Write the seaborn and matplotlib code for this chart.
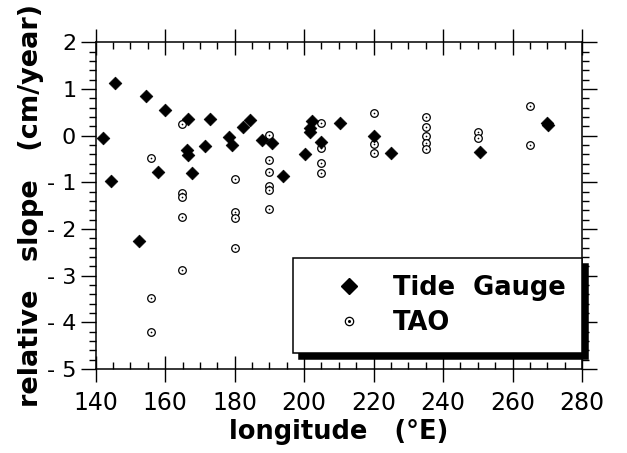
import numpy as np
import pandas as pd
import matplotlib
matplotlib.use("Agg")
import matplotlib.pyplot as plt
from matplotlib.ticker import MultipleLocator, FixedLocator, FixedFormatter
from matplotlib.lines import Line2D
import seaborn as sns

# ---- data ----
tide_lon = [142, 145.5, 144.5, 152.5, 154.5, 160, 158, 166.7, 166.2, 166.5,
            167.6, 171.5, 173, 178.5, 179.2, 182.5, 184.5, 187.8, 190.7, 193.9,
            200.2, 202.2, 201.8, 201.6, 204.8, 210.4, 220, 225.1, 250.7, 269.8,
            270.2]
tide_slope = [-0.05, 1.13, -0.98, -2.25, 0.84, 0.55, -0.77, 0.35, -0.31, -0.41,
              -0.79, -0.22, 0.35, -0.03, -0.20, 0.19, 0.33, -0.09, -0.15, -0.86,
              -0.39, 0.32, 0.16, 0.07, -0.13, 0.27, -0.01, -0.38, -0.36, 0.28,
              0.22]

tao_lon = [164.8, 156, 164.8, 164.8, 164.8, 164.8, 156, 156, 180, 180,
           180, 180, 190, 190, 190, 190, 190, 190, 205, 205,
           205, 205, 220, 220, 220, 235, 235, 235, 235, 235,
           250, 250, 265, 265]
tao_slope = [0.25, -0.48, -1.22, -1.32, -1.75, -2.88, -3.47, -4.21, -0.93, -1.63,
             -1.77, -2.41, 0.01, -0.52, -0.77, -1.08, -1.16, -1.58, 0.28, -0.27,
             -0.59, -0.81, 0.49, -0.18, -0.38, 0.39, 0.19, 0.00, -0.16, -0.29,
             0.07, -0.06, 0.64, -0.21]

x_ticks = [140, 160, 180, 200, 220, 240, 260, 280]
y_ticks = [-5, -4, -3, -2, -1, 0, 1, 2]
y_tick_labels = ["- 5", "- 4", "- 3", "- 2", "- 1", "0", "1", "2"]

series_labels = ["Tide  Gauge", "TAO"]
x_label = "longitude   (°E)"
y_label = "relative   slope   (cm/year)"

# ---- styling ----
sns.set_theme(style="ticks")
plt.rcParams["font.family"] = ["DejaVu Sans"]
plt.rcParams["axes.linewidth"] = 1.1
for key in ["text.color", "axes.labelcolor", "xtick.color", "ytick.color",
            "axes.edgecolor", "legend.labelcolor"]:
    plt.rcParams[key] = "black"

tide_df = pd.DataFrame({"lon": tide_lon, "slope": tide_slope})
tao_df = pd.DataFrame({"lon": tao_lon, "slope": tao_slope})

fig = plt.figure(figsize=(6.27, 4.53), dpi=100)
ax = fig.add_axes([0.1526, 0.1854, 0.7756, 0.7212])

sns.scatterplot(data=tao_df, x="lon", y="slope", ax=ax, marker="o", s=30,
                facecolor="white", edgecolor="black", linewidth=0.9, zorder=3,
                legend=False)
sns.scatterplot(data=tao_df, x="lon", y="slope", ax=ax, marker="o", s=1.5,
                color="black", linewidth=0, zorder=3.1, legend=False)
sns.scatterplot(data=tide_df, x="lon", y="slope", ax=ax, marker="D", s=42,
                color="black", edgecolor="black", linewidth=0.5, zorder=4,
                legend=False)

ax.set_xlim(140, 280)
ax.set_ylim(-5, 2)
ax.xaxis.set_major_locator(FixedLocator(x_ticks))
ax.xaxis.set_minor_locator(MultipleLocator(5))
ax.yaxis.set_major_locator(FixedLocator(y_ticks))
ax.yaxis.set_major_formatter(FixedFormatter(y_tick_labels))
ax.yaxis.set_minor_locator(MultipleLocator(0.2))

for sp in ax.spines.values():
    sp.set_visible(True)
    sp.set_color("black")
    sp.set_linewidth(1.1)

ax.tick_params(axis="x", which="major", direction="inout", length=19, width=1.0,
               top=True, bottom=True, pad=6, labelsize=17, colors="black")
ax.tick_params(axis="x", which="minor", direction="in", length=5, width=1.0,
               top=True, bottom=True, colors="black")
ax.tick_params(axis="y", which="major", direction="out", length=11, width=1.0,
               left=True, right=True, pad=3, labelsize=16, colors="black")
ax.tick_params(axis="y", which="minor", direction="out", length=5, width=1.0,
               left=True, right=True, colors="black")

ax.set_xlabel(x_label, fontsize=18.5, fontweight="bold", labelpad=3, color="black")
ax.set_ylabel(y_label, fontsize=19.5, fontweight="bold", labelpad=2, color="black")

h_tide = Line2D([], [], marker="D", color="black", linestyle="none", markersize=8)
h_circ = Line2D([], [], marker="o", markerfacecolor="white", markeredgecolor="black",
                linestyle="none", markersize=6, markeredgewidth=0.9)
h_dot = Line2D([], [], marker="o", color="black", linestyle="none", markersize=1.2)

leg = ax.legend([h_tide, (h_circ, h_dot)], series_labels,
                loc="upper left", bbox_to_anchor=(0.4057, 0.0612, 0.5943, 0.2786),
                mode="expand", fancybox=False, frameon=True,
                prop={"weight": "bold", "size": 18.5},
                handlelength=3.0, handletextpad=0.2, labelspacing=0.33,
                borderpad=0.68, borderaxespad=0,
                shadow={"ox": 4.3, "oy": -4.3, "facecolor": "black",
                        "edgecolor": "black", "alpha": 1})
leg.get_frame().set_edgecolor("black")
leg.get_frame().set_linewidth(1.1)
leg.get_frame().set_facecolor("white")
leg.get_frame().set_alpha(1)
for t in leg.get_texts():
    t.set_color("black")

fig.savefig("out.png", dpi=100)
